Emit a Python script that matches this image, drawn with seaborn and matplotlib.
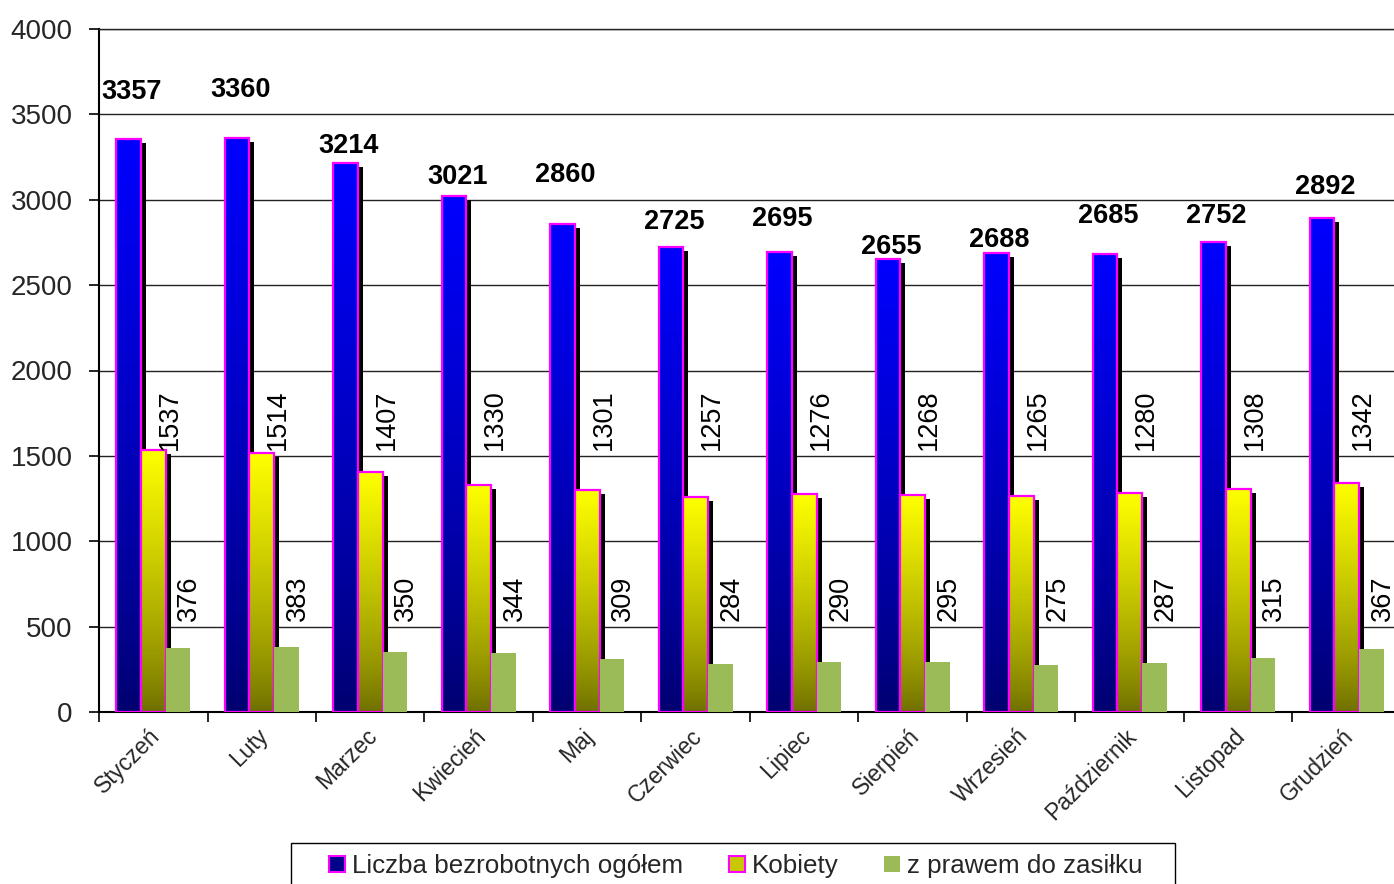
import numpy as np
import pandas as pd
import matplotlib
matplotlib.use("Agg")
import matplotlib.pyplot as plt
import matplotlib.transforms as mtransforms
from matplotlib.patches import Rectangle, Patch
import seaborn as sns

# ---------------- data ----------------
months = ["Styczeń", "Luty", "Marzec", "Kwiecień", "Maj", "Czerwiec", "Lipiec",
          "Sierpień", "Wrzesień", "Październik", "Listopad", "Grudzień"]
total = [3357, 3360, 3214, 3021, 2860, 2725, 2695, 2655, 2688, 2685, 2752, 2892]
women = [1537, 1514, 1407, 1330, 1301, 1257, 1276, 1268, 1265, 1280, 1308, 1342]
benefit = [376, 383, 350, 344, 309, 284, 290, 295, 275, 287, 315, 367]
series_names = ["Liczba bezrobotnych ogółem", "Kobiety", "z prawem do zasiłku"]
y_ticks = [0, 500, 1000, 1500, 2000, 2500, 3000, 3500, 4000]

# label placement (data-units heights of label centres)
total_label_y = [3631, 3643, 3315, 3133, 3145, 2870, 2887, 2723, 2764, 2905, 2905, 3075]
women_label_y = 1710
benefit_label_y = 665

# ---------------- style ----------------
sns.set_theme(style="white")
plt.rcParams['font.family'] = ['Liberation Sans', 'DejaVu Sans']

W, H = 1394, 884
fig = plt.figure(figsize=(W / 100, H / 100), dpi=100)
ax = fig.add_axes([99 / W, 1 - 712 / H, 1302 / W, 683 / H])

df = pd.DataFrame({
    "month": months * 3,
    "value": total + women + benefit,
    "series": [s for s in series_names for _ in months],
})
palette = {series_names[0]: "#0000ff", series_names[1]: "#ffff00", series_names[2]: "#9bbb59"}
sns.barplot(data=df, x="month", y="value", hue="series", hue_order=series_names,
            order=months, palette=palette, width=0.68, gap=0, ax=ax,
            legend=False, saturation=1, errorbar=None)

ax.set_xlim(-0.5, 11.5)
ax.set_ylim(0, 4000)

gradients = {
    0: ((0.0, 0.0, 0.43), (0.0, 0.0, 1.0)),
    1: ((0.43, 0.43, 0.0), (1.0, 1.0, 0.0)),
}
shadow_tr = mtransforms.offset_copy(ax.transData, fig=fig, x=5, y=-4, units='dots')

for si, cont in enumerate(ax.containers):
    base_z = 3 + si
    for p in cont.patches:
        x0, w, h = p.get_x(), p.get_width(), p.get_height()
        if si in gradients:
            bot, top = gradients[si]
            t = np.linspace(0, 1, 256)[:, None, None] ** 0.8
            grad = np.array(bot)[None, None, :] * (1 - t) + np.array(top)[None, None, :] * t
            shadow = Rectangle((x0, 0), w, h, transform=shadow_tr, facecolor="black",
                               edgecolor="none", zorder=base_z)
            ax.add_patch(shadow)
            im = ax.imshow(grad, extent=[x0, x0 + w, 0, h], origin="lower",
                           aspect="auto", zorder=base_z + 0.1, interpolation="bilinear")
            im.set_clip_path(p)
            p.set_facecolor("none")
            p.set_edgecolor("#ff00ff")
            p.set_linewidth(1.6)
            p.set_zorder(base_z + 0.2)
        else:
            p.set_edgecolor("none")
            p.set_zorder(base_z + 0.2)

ax.set_xlim(-0.5, 11.5)
ax.set_ylim(0, 4000)

# value labels
blue_c, yel_c, grn_c = ax.containers
px = 1.0 / 108.5  # one pixel in x data units
for i, p in enumerate(blue_c.patches):
    ax.text(p.get_x() + p.get_width() / 2 + 3 * px, total_label_y[i], f"{total[i]}",
            ha="center", va="center", fontsize=19.5, fontweight="bold", color="black", zorder=10)
for i, p in enumerate(yel_c.patches):
    ax.text(p.get_x() + p.get_width() + 4 * px, women_label_y, f"{women[i]}",
            ha="center", va="center", rotation=90, fontsize=19.5, color="black", zorder=10)
for i, p in enumerate(grn_c.patches):
    ax.text(p.get_x() + p.get_width() - 1 * px, benefit_label_y, f"{benefit[i]}",
            ha="center", va="center", rotation=90, fontsize=19.5, color="black", zorder=10)

# axes styling
ax.set_axisbelow(True)
ax.set_yticks(y_ticks)
ax.set_yticklabels([str(v) for v in y_ticks], fontsize=20)
ax.yaxis.grid(True, color="#222222", linewidth=1.0)
ax.xaxis.grid(False)
ax.tick_params(axis="y", which="major", left=True, length=7, width=1.2, color="black",
               direction="out", pad=12)
ax.set_xticks(range(len(months)))
ax.set_xticklabels(months, rotation=45, ha="right", va="top", rotation_mode="anchor",
                   fontsize=16.5)
ax.tick_params(axis="x", which="major", length=0, pad=9)
shift = mtransforms.ScaledTranslation(-5 / 100, 0, fig.dpi_scale_trans)
for lbl in ax.get_xticklabels():
    lbl.set_transform(lbl.get_transform() + shift)
ax.set_xticks(np.arange(-0.5, 12, 1), minor=True)
ax.tick_params(axis="x", which="minor", bottom=True, length=7, width=1.2, color="black",
               direction="out")
ax.set_xlabel("")
ax.set_ylabel("")
for side in ["left", "bottom"]:
    ax.spines[side].set_color("black")
    ax.spines[side].set_linewidth(1.5)
ax.spines["top"].set_color("#222222")
ax.spines["top"].set_linewidth(1.0)
ax.spines["right"].set_visible(False)

# legend
handles = [
    Patch(facecolor="#00008a", edgecolor="#ff00ff", linewidth=1.5),
    Patch(facecolor="#c8c800", edgecolor="#ff00ff", linewidth=1.5),
    Patch(facecolor="#9bbb59", edgecolor="none"),
]
leg = fig.legend(handles, series_names, loc="center",
                 bbox_to_anchor=(736 / W, 1 - 866 / H), ncol=3, fontsize=18.7,
                 frameon=False, handlelength=0.6, handleheight=0.6, handletextpad=0.27,
                 columnspacing=1.77, borderpad=0.0, borderaxespad=0)
frame = Rectangle((291 / W, 1 - 890 / H), (1175 - 291) / W, (890 - 843) / H,
                  transform=fig.transFigure, facecolor="none", edgecolor="black",
                  linewidth=1.0, zorder=0)
fig.patches.append(frame)

fig.savefig("out.png", dpi=100)
